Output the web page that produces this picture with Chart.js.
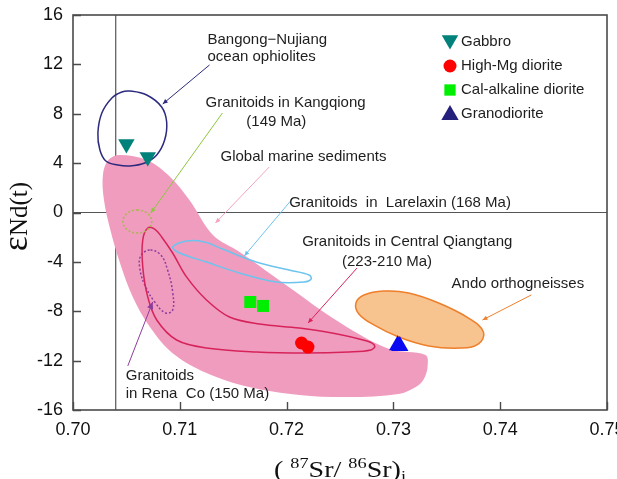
<!DOCTYPE html>
<html>
<head>
<meta charset="utf-8">
<script src="https://cdn.jsdelivr.net/npm/chart.js@4.4.1/dist/chart.umd.min.js"></script>
<style>
html, body { margin: 0; padding: 0; background: #fff; }
canvas { display: block; }
</style>
</head>
<body>
<canvas id="c" width="617" height="479"></canvas>
<script>
// Axis ticks
const xTicks = [0.70, 0.71, 0.72, 0.73, 0.74, 0.75];
const yTicks = [-16, -12, -8, -4, 0, 4, 8, 12, 16];

// Samples: [(87Sr/86Sr)i, εNd(t)]
const gabbro = [[0.7050, 5.55], [0.7070, 4.50]];
const highMgDiorite = [[0.7214, -10.57], [0.7220, -10.90]];
const calAlkalineDiorite = [[0.7166, -7.25], [0.7178, -7.57]];
const granodiorite = [[0.7304, -10.75], [0.7306, -10.82]];

// Reference fields (closed outlines)
const marineSediments = [[0.7044, 4.66], [0.7069, 4.25], [0.7091, 2.88], [0.7109, 1.01], [0.7131, -1.82],
  [0.7156, -3.20], [0.7202, -6.03], [0.7249, -8.87], [0.7296, -11.06], [0.7330, -11.54], [0.7332, -12.52],
  [0.7328, -13.57], [0.7321, -14.14], [0.7305, -14.70], [0.7258, -14.95], [0.7212, -14.78], [0.7165, -14.14],
  [0.7125, -13.00], [0.7093, -11.38], [0.7072, -9.28], [0.7056, -6.85], [0.7044, -4.09], [0.7035, -1.42],
  [0.7029, 1.01], [0.7028, 3.04], [0.7033, 4.25]];
const bangongOphiolites = [[0.70532, 9.84], [0.7069, 9.52], [0.7083, 8.55], [0.70877, 7.33], [0.70858, 5.87],
  [0.70784, 4.66], [0.70672, 4.01], [0.70532, 3.77], [0.7042, 3.85], [0.70308, 4.17], [0.70252, 5.06],
  [0.70233, 6.44], [0.7027, 8.06], [0.70364, 9.28], [0.70457, 9.76]];
const kangqiong = [[0.7060, 0.20], [0.70697, -0.07], [0.70737, -0.73], [0.70697, -1.39], [0.7060, -1.66],
  [0.70507, -1.39], [0.70467, -0.73], [0.70507, -0.07]];
const larelaxin = [[0.70933, -2.79], [0.71063, -2.31], [0.71231, -2.39], [0.71399, -2.96], [0.71716, -4.01],
  [0.72024, -4.66], [0.72211, -5.06], [0.7223, -5.39], [0.72164, -5.63], [0.71903, -5.63], [0.71558, -4.90],
  [0.7125, -4.01], [0.70998, -3.28]];
const centralQiangtang = [[0.7070, -1.26], [0.70653, -2.23], [0.70653, -4.41], [0.7070, -6.85], [0.70784, -8.71],
  [0.7097, -10.33], [0.7125, -10.98], [0.71716, -11.30], [0.72183, -11.38], [0.72584, -11.30], [0.72789, -11.14],
  [0.72826, -10.81], [0.72752, -10.41], [0.72425, -9.76], [0.72118, -9.36], [0.71744, -9.03], [0.71465, -8.47],
  [0.7125, -7.09], [0.71063, -5.22], [0.70933, -3.28], [0.7083, -1.98], [0.70765, -1.34]];
const renaCo = [[0.70718, -3.04], [0.70634, -3.52], [0.70625, -4.50], [0.70672, -5.87], [0.70765, -7.25],
  [0.70868, -8.14], [0.70933, -7.90], [0.70933, -6.44], [0.70886, -4.66], [0.70821, -3.44]];
const andoOrthogneiss = [[0.72649, -7.33], [0.72724, -6.68], [0.7291, -6.36], [0.73144, -6.52], [0.73424, -7.33],
  [0.73703, -8.55], [0.73843, -9.68], [0.73797, -10.65], [0.73629, -10.98], [0.7333, -10.81], [0.7305, -10.09],
  [0.72817, -9.11], [0.72677, -8.22]];

// Reference lines
const zeroLine = [[0.70, 0], [0.75, 0]];
const bulkEarthLine = [[0.704, -16], [0.704, 16]];

// Leader lines from labels to fields
const leaderBangong = [[0.71278, 11.95], [0.70840, 8.79]];
const leaderKangqiong = [[0.71399, 8.06], [0.70728, -0.04]];
const leaderMarine = [[0.71838, 3.69], [0.71334, -0.85]];
const leaderLarelaxin = [[0.72052, 1.09], [0.71604, -3.52]];
const leaderCentral = [[0.72659, -4.50], [0.72201, -8.95]];
const leaderAndo = [[0.74291, -6.68], [0.73834, -8.71]];
const leaderRena = [[0.70513, -12.43], [0.70746, -7.25]];

// Field labels, anchored by left edge / vertical middle
const fieldLabels = [
  { text: 'Bangong\u2212Nujiang', x: 0.71259, y: 13.97 },
  { text: 'ocean ophiolites', x: 0.71259, y: 12.60 },
  { text: 'Granitoids in Kangqiong', x: 0.71241, y: 8.87 },
  { text: '(149 Ma)', x: 0.71623, y: 7.33 },
  { text: 'Global marine sediments', x: 0.71381, y: 4.50 },
  { text: 'Granitoids  in  Larelaxin (168 Ma)', x: 0.72024, y: 0.77 },
  { text: 'Granitoids in Central Qiangtang', x: 0.72146, y: -2.39 },
  { text: '(223-210 Ma)', x: 0.72519, y: -4.01 },
  { text: 'Ando orthogneisses', x: 0.73545, y: -5.79 },
  { text: 'Granitoids', x: 0.70494, y: -13.25 },
  { text: 'in Rena  Co (150 Ma)', x: 0.70494, y: -14.70 }
];

const legendItems = [
  { text: 'Gabbro', style: 'triangle', rotation: 180, radius: 9.5, color: '#00817a' },
  { text: 'High-Mg diorite', style: 'circle', rotation: 0, radius: 6.5, color: '#ff0000' },
  { text: 'Cal-alkaline diorite', style: 'rect', rotation: 0, radius: 8, color: '#00ee00' },
  { text: 'Granodiorite', style: 'triangle', rotation: 0, radius: 10, color: '#25207c' }
];

const SANS = "'Liberation Sans', Arial, sans-serif";
const SERIF = "'Liberation Serif', 'Times New Roman', serif";
const toXY = arr => arr.map(p => ({ x: p[0], y: p[1] }));

function field(data, opts) {
  return Object.assign({
    data: toXY(data), showLine: true, closed: true, tension: 0.4,
    pointRadius: 0, borderWidth: 1.5, fill: false
  }, opts);
}
function leader(data, color, arrow) {
  return { data: toXY(data), showLine: true, pointRadius: 0, borderWidth: 1, borderColor: color,
    fill: false, tension: 0, order: 40, arrow: arrow };
}
function marks(data, opts) {
  return Object.assign({ data: toXY(data), showLine: false, borderWidth: 0, order: 0 }, opts);
}

const datasets = [
  { data: toXY(zeroLine), showLine: true, pointRadius: 0, borderWidth: 1.2, borderColor: '#555', order: 100 },
  { data: toXY(bulkEarthLine), showLine: true, pointRadius: 0, borderWidth: 1.2, borderColor: '#555', order: 100 },
  field(marineSediments, { backgroundColor: '#f09cbf', borderWidth: 0, fill: 'shape', order: 90, tension: 0.35 }),
  field(andoOrthogneiss, { backgroundColor: '#f7c38f', borderColor: '#ee7f2b', fill: 'shape', order: 80 }),
  field(bangongOphiolites, { borderColor: '#2c2a7e', order: 70 }),
  field(kangqiong, { borderColor: '#a6b84c', borderDash: [2, 2], order: 70 }),
  field(larelaxin, { borderColor: '#6cc4ee', order: 70, tension: 0.35 }),
  field(centralQiangtang, { borderColor: '#d6245a', order: 70, tension: 0.35 }),
  field(renaCo, { borderColor: '#8e3c9c', borderDash: [2, 2], order: 70 }),
  leader(leaderBangong, '#2c2a7e', 5),
  leader(leaderKangqiong, '#8cc63f', 5),
  leader(leaderMarine, '#f4a3c0', 5),
  leader(leaderLarelaxin, '#6cc4ee', 5),
  leader(leaderCentral, '#d6245a', 5),
  leader(leaderAndo, '#ee7f2b', 5),
  leader(leaderRena, '#8e3c9c', 7),
  marks(gabbro, { pointStyle: 'triangle', rotation: 180, pointRadius: 9.5, backgroundColor: '#00817a' }),
  marks(highMgDiorite, { pointStyle: 'circle', pointRadius: 6.5, backgroundColor: '#ff0000' }),
  marks(calAlkalineDiorite, { pointStyle: 'rect', pointRadius: 8.5, backgroundColor: '#00ee00' }),
  marks(granodiorite, { pointStyle: 'triangle', pointRadius: 10, backgroundColor: '#0a0af2' })
];

// Closed smooth outlines for the fields
const closedLoops = {
  id: 'closedLoops',
  afterDatasetsUpdate(chart) {
    chart.data.datasets.forEach((ds, i) => {
      if (!ds.closed) return;
      const line = chart.getDatasetMeta(i).dataset;
      if (line) {
        line._loop = true;
        line._fullLoop = true;
        line._pointsUpdated = false;
        delete line._segments;
        delete line._path;
      }
    });
  }
};

// Frame, inward ticks, arrowheads, labels, legend and axis titles
const decorations = {
  id: 'decorations',
  afterDatasetsDraw(chart) {
    const ctx = chart.ctx;
    const a = chart.chartArea;
    const xs = chart.scales.x, ys = chart.scales.y;

    // arrowheads on leader lines
    chart.data.datasets.forEach((ds, i) => {
      if (!ds.arrow) return;
      const pts = chart.getDatasetMeta(i).data;
      const p0 = pts[0], p1 = pts[pts.length - 1];
      const ang = Math.atan2(p1.y - p0.y, p1.x - p0.x);
      const L = ds.arrow, W = ds.arrow * 0.45;
      ctx.save();
      ctx.translate(p1.x, p1.y);
      ctx.rotate(ang);
      ctx.fillStyle = ds.borderColor;
      ctx.beginPath();
      ctx.moveTo(0, 0);
      ctx.lineTo(-L, -W);
      ctx.lineTo(-L, W);
      ctx.closePath();
      ctx.fill();
      ctx.restore();
    });

    // field labels
    ctx.save();
    ctx.fillStyle = '#1e1e1e';
    ctx.font = '15px ' + SANS;
    ctx.textBaseline = 'middle';
    ctx.textAlign = 'left';
    fieldLabels.forEach(l => {
      ctx.fillText(l.text, xs.getPixelForValue(l.x), ys.getPixelForValue(l.y));
    });
    ctx.restore();

    // legend
    ctx.save();
    ctx.font = '15px ' + SANS;
    ctx.textBaseline = 'middle';
    ctx.fillStyle = '#1e1e1e';
    const lx = a.right - 157, tx = a.right - 146;
    legendItems.forEach((it, k) => {
      const cy = a.top + 27 + k * 24;
      ctx.save();
      ctx.fillStyle = it.color;
      ctx.strokeStyle = it.color;
      Chart.helpers.drawPoint(ctx, { pointStyle: it.style, rotation: it.rotation, radius: it.radius, borderWidth: 0 },
        lx, it.style === 'triangle' ? cy - (it.rotation ? 2 : -1) : cy);
      ctx.restore();
      ctx.fillText(it.text, tx, cy);
    });
    ctx.restore();

    // frame
    ctx.save();
    ctx.strokeStyle = '#4a4a4a';
    ctx.lineWidth = 1.6;
    ctx.strokeRect(a.left, a.top, a.right - a.left, a.bottom - a.top);
    ctx.lineWidth = 1.4;
    ctx.beginPath();
    xTicks.forEach(v => {
      const px = Math.round(xs.getPixelForValue(v)) + 0.5;
      ctx.moveTo(px, a.bottom);
      ctx.lineTo(px, a.bottom - 8);
    });
    yTicks.forEach(v => {
      const py = Math.round(ys.getPixelForValue(v)) + 0.5;
      ctx.moveTo(a.left, py);
      ctx.lineTo(a.left + 8, py);
    });
    ctx.stroke();
    ctx.restore();
  },
  afterDraw(chart) {
    const ctx = chart.ctx;
    const a = chart.chartArea;
    ctx.save();
    ctx.fillStyle = '#111';
    ctx.textBaseline = 'alphabetic';

    // y title: εNd(t)
    const parts = [{ t: '\u03b5', f: '36px ' + SERIF }, { t: 'Nd(t)', f: '25px ' + SERIF }];
    let len = 0;
    parts.forEach(p => { ctx.font = p.f; p.w = ctx.measureText(p.t).width; len += p.w; });
    ctx.save();
    ctx.translate(27, (a.top + a.bottom) / 2 + 4);
    ctx.rotate(-Math.PI / 2);
    let u = -len / 2;
    parts.forEach(p => { ctx.font = p.f; ctx.fillText(p.t, u, 0); u += p.w; });
    ctx.restore();

    // x title: (87Sr/ 86Sr)i
    const xp = [
      { t: '( ', f: '23px ' + SERIF, dy: 0 },
      { t: '87', f: '15px ' + SERIF, dy: -9 },
      { t: 'Sr/ ', f: '23px ' + SERIF, dy: 0 },
      { t: '86', f: '15px ' + SERIF, dy: -9 },
      { t: 'Sr)', f: '23px ' + SERIF, dy: 0 },
      { t: 'i', f: '15px ' + SERIF, dy: 4 }
    ];
    const sx = 1.22;
    let w = 0;
    xp.forEach(p => { ctx.font = p.f; p.w = ctx.measureText(p.t).width; w += p.w; });
    ctx.save();
    ctx.translate((a.left + a.right) / 2 - (w * sx) / 2, 477);
    ctx.scale(sx, 1);
    let x = 0;
    xp.forEach(p => { ctx.font = p.f; ctx.fillText(p.t, x, p.dy); x += p.w; });
    ctx.restore();
    ctx.restore();
  }
};

new Chart(document.getElementById('c'), {
  type: 'scatter',
  data: { datasets: datasets },
  options: {
    responsive: false,
    devicePixelRatio: 1,
    animation: false,
    events: [],
    layout: { padding: { top: 15, right: 8, left: 0, bottom: 0 } },
    plugins: { legend: { display: false }, tooltip: { enabled: false } },
    scales: {
      x: {
        type: 'linear', min: 0.70, max: 0.75,
        afterBuildTicks: s => { s.ticks = xTicks.map(v => ({ value: v })); },
        afterFit: s => { s.height = 69; s.paddingLeft = 0; s.paddingRight = 0; },
        ticks: { callback: v => Number(v).toFixed(2), font: { family: SANS, size: 18 }, color: '#111',
          padding: 9, maxRotation: 0, autoSkip: false },
        grid: { display: false, drawTicks: false },
        border: { display: false }
      },
      y: {
        type: 'linear', min: -16, max: 16,
        afterBuildTicks: s => { s.ticks = yTicks.map(v => ({ value: v })); },
        afterFit: s => { s.width = 73; s.paddingTop = 0; s.paddingBottom = 0; },
        ticks: { callback: v => String(v), font: { family: SANS, size: 18 }, color: '#111', padding: 10, autoSkip: false },
        grid: { display: false, drawTicks: false },
        border: { display: false }
      }
    }
  },
  plugins: [closedLoops, decorations]
});
</script>
</body>
</html>
